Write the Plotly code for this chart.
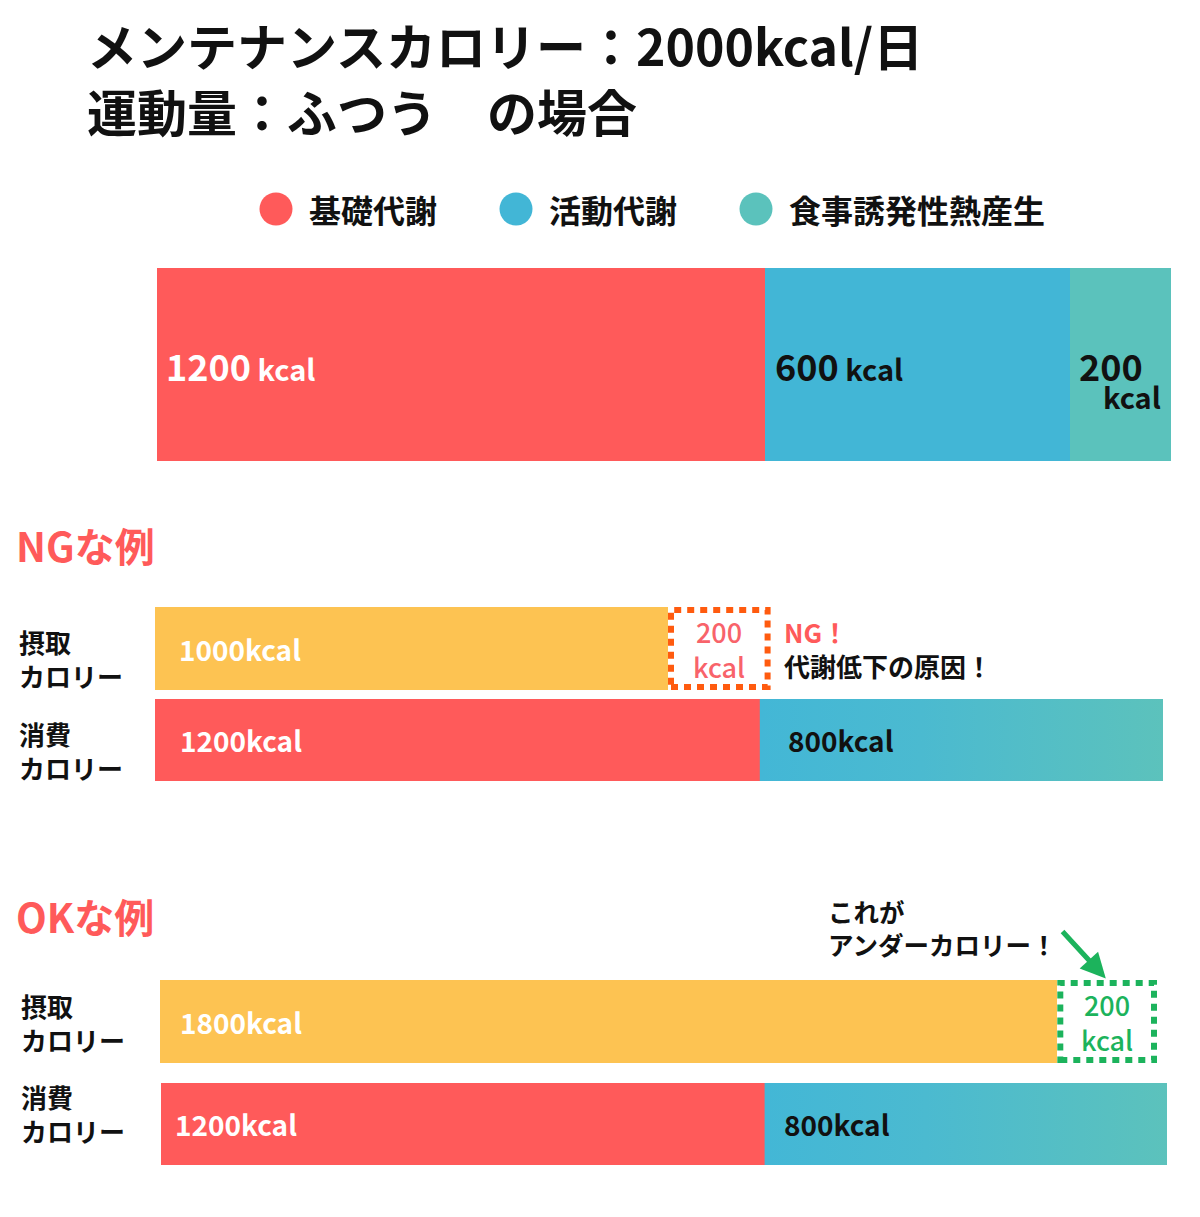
import plotly.graph_objects as go

# ---- data ----
maintenance = 2000
components = ["基礎代謝", "活動代謝", "食事誘発性熱産生"]
component_kcal = [1200, 600, 200]
component_colors = ["#FF5A5A", "#42B6D6", "#5BC2BC"]

row_labels = ["摂取<br>カロリー", "消費<br>カロリー"]
burn_kcal = [1200, 800]          # 基礎代謝 / それ以外
ng_intake = 1000
ng_gap = 200                     # 基礎代謝に足りない分
ok_intake = 1800
ok_gap = 200                     # メンテナンスに足りない分
unit = "kcal"

title_lines = ["メンテナンスカロリー：2000kcal/日", "運動量：ふつう　の場合"]
section_titles = ["NGな例", "OKな例"]
ng_note = ["NG！", "代謝低下の原因！"]
ok_note = "これが<br>アンダーカロリー！"

# ---- layout helpers (pixel positions of the picture) ----
# the page body has an 8px margin, so the figure starts at (8, 8)
OFF = 8
W, H = 1184, 1200
FONT = "Noto Sans CJK JP"
YELLOW = "#FDC352"
ORANGE = "#FF5B0F"
GREEN = "#1CB35C"
NG_RED = "#F8636A"


def px(p):
    return (p - OFF) / W


def py(p):
    return 1 - (p - OFF) / H


def xdom(p0, p1):
    return [px(p0), px(p1)]


def ydom(top, bottom):
    return [py(bottom), py(top)]


# rows: top bar, NG intake, NG burn, OK intake, OK burn
row_px = [
    ((157, 1171), (268, 461)),
    ((155, 1181), (607, 690)),
    ((155, 1163), (699, 781)),
    ((160, 1157), (980, 1063)),
    ((161, 1167), (1083, 1165)),
]

fig = go.Figure()
layout_axes = {}
for i, ((x0, x1), (t, b)) in enumerate(row_px, start=1):
    sx = "" if i == 1 else str(i)
    layout_axes["xaxis" + sx] = dict(domain=xdom(x0, x1), range=[0, maintenance], visible=False,
                                     fixedrange=True, anchor="y" + sx)
    layout_axes["yaxis" + sx] = dict(domain=ydom(t, b), range=[-0.5, 0.5], visible=False,
                                     fixedrange=True, anchor="x" + sx)
# legend axis
layout_axes["xaxis6"] = dict(domain=xdom(276, 756), range=[0, len(components) - 1], visible=False,
                             fixedrange=True, anchor="y6")
layout_axes["yaxis6"] = dict(domain=ydom(193, 225), range=[-1, 1], visible=False,
                             fixedrange=True, anchor="x6")


def bar(v, color, ax):
    return go.Bar(x=[v], y=[0], orientation="h", width=1, marker=dict(color=color, line=dict(width=0)),
                  xaxis="x" + ax, yaxis="y" + ax, showlegend=False, hoverinfo="skip")


def gradient_block(start, length, ax):
    return go.Scatter(x=[start, start + length, start + length, start, start],
                      y=[-0.5, -0.5, 0.5, 0.5, -0.5], mode="lines", fill="toself",
                      line=dict(width=0),
                      fillgradient=dict(type="horizontal",
                                        colorscale=[[0, "#43B7D6"], [0.4, "#4BBAD0"], [1, "#5CC2BC"]]),
                      xaxis="x" + ax, yaxis="y" + ax, showlegend=False, hoverinfo="skip")


# top bar: breakdown of maintenance calories
for v, c in zip(component_kcal, component_colors):
    fig.add_trace(bar(v, c, ""))

# NG example
fig.add_trace(bar(ng_intake, YELLOW, "2"))
fig.add_trace(bar(burn_kcal[0], component_colors[0], "3"))
fig.add_trace(gradient_block(burn_kcal[0], burn_kcal[1], "3"))

# OK example
fig.add_trace(bar(ok_intake, YELLOW, "4"))
fig.add_trace(bar(burn_kcal[0], component_colors[0], "5"))
fig.add_trace(gradient_block(burn_kcal[0], burn_kcal[1], "5"))

# legend dots
fig.add_trace(go.Scatter(x=list(range(len(components))), y=[0] * len(components), mode="markers",
                         marker=dict(size=33, color=component_colors), cliponaxis=False,
                         xaxis="x6", yaxis="y6", showlegend=False, hoverinfo="skip"))

ann = []


def text(x, y, s, size, color="#111111", xref="paper", yref="paper", xanchor="left",
         xshift=0, yshift=0, align="left", weight="bold", pad=1):
    ann.append(dict(x=x, y=y, xref=xref, yref=yref, text=s, showarrow=False, xanchor=xanchor,
                    yanchor="middle", xshift=xshift, yshift=yshift, align=align, borderpad=pad,
                    font=dict(family=FONT, size=size, color=color, weight=weight)))


# titles
text(px(86), py(44), title_lines[0], 50, pad=0)
text(px(86), py(110), title_lines[1], 50, pad=0)

# legend labels
for i, name in enumerate(components):
    text(i, 0, name, 32, xref="x6", yref="y6", xshift=31)

# top bar labels
starts = [sum(component_kcal[:i]) for i in range(len(component_kcal))]
small = "<span style='font-size:29px'> " + unit + "</span>"
text(starts[0], 0, f"{component_kcal[0]}" + small, 36, "white", "x", "y", xshift=7)
text(starts[1], 0, f"{component_kcal[1]}" + small, 36, "#111111", "x", "y", xshift=8)
text(starts[2], 0, f"{component_kcal[2]}", 36, "#111111", "x", "y", xshift=7)
text(starts[2], 0, unit, 29, "#111111", "x", "y", xshift=31, yshift=-31)

# section titles
text(px(14), py(545), section_titles[0], 40, "#FF5A5A")
text(px(14), py(916), section_titles[1], 40, "#FF5A5A")

# row labels
for xl, yc, lab in [(17, 658, row_labels[0]), (17, 750, row_labels[1]),
                    (19, 1022, row_labels[0]), (19, 1113, row_labels[1])]:
    text(px(xl), py(yc), lab, 26)

# bar value labels
text(0, 0, f"{ng_intake}{unit}", 28, "white", "x2", "y2", xshift=22, weight=600)
text(0, 0, f"{burn_kcal[0]}{unit}", 28, "white", "x3", "y3", xshift=23, weight=600)
text(burn_kcal[0], 0, f"{burn_kcal[1]}{unit}", 28, "#111111", "x3", "y3", xshift=26, weight=600)
text(0, 0, f"{ok_intake}{unit}", 28, "white", "x4", "y4", xshift=18, weight=600)
text(0, 0, f"{burn_kcal[0]}{unit}", 28, "white", "x5", "y5", xshift=12, weight=600)
text(burn_kcal[0], 0, f"{burn_kcal[1]}{unit}", 28, "#111111", "x5", "y5", xshift=17, weight=600)

# dashed gap boxes
shapes = []
for ax, start, gap, color, tcolor in [("2", ng_intake, ng_gap, ORANGE, NG_RED),
                                       ("4", ok_intake, ok_gap, GREEN, GREEN)]:
    (x0, x1), (t, b) = row_px[int(ax) - 1]
    scale = (x1 - x0) / maintenance
    ix = 3 / scale
    iy = 3 / (b - t)
    shapes.append(dict(type="rect", xref="x" + ax, yref="y" + ax, x0=start + ix, x1=start + gap - ix,
                       y0=-0.5 + iy, y1=0.5 - iy, fillcolor="rgba(0,0,0,0)",
                       line=dict(color=color, width=6, dash="7px,6px")))
    text(start + gap / 2, 0, f"{gap}<br>{unit}", 27, tcolor, "x" + ax, "y" + ax,
         xanchor="center", align="center", weight=500)

# notes
text(ng_intake + ng_gap, 0, ng_note[0], 26, "#FF5A5A", "x2", "y2", xshift=11, yshift=17)
text(ng_intake + ng_gap, 0, ng_note[1], 26, "#111111", "x2", "y2", xshift=11, yshift=-17)
text(px(826), py(927), ok_note, 25.5)

# arrow to the OK gap
ann.append(dict(x=ok_intake + ok_gap / 2, y=0.5, xref="x4", yref="y4", text="", showarrow=True,
                ax=-46, ay=-50, arrowhead=2, arrowsize=1, arrowwidth=5, arrowcolor=GREEN, standoff=2))

fig.update_layout(
    width=W, height=H, autosize=False,
    margin=dict(l=0, r=0, t=0, b=0),
    paper_bgcolor="white", plot_bgcolor="white",
    barmode="stack", bargap=0,
    showlegend=False,
    annotations=ann, shapes=shapes,
    font=dict(family=FONT),
    **layout_axes,
)

fig.write_html("out.html")
